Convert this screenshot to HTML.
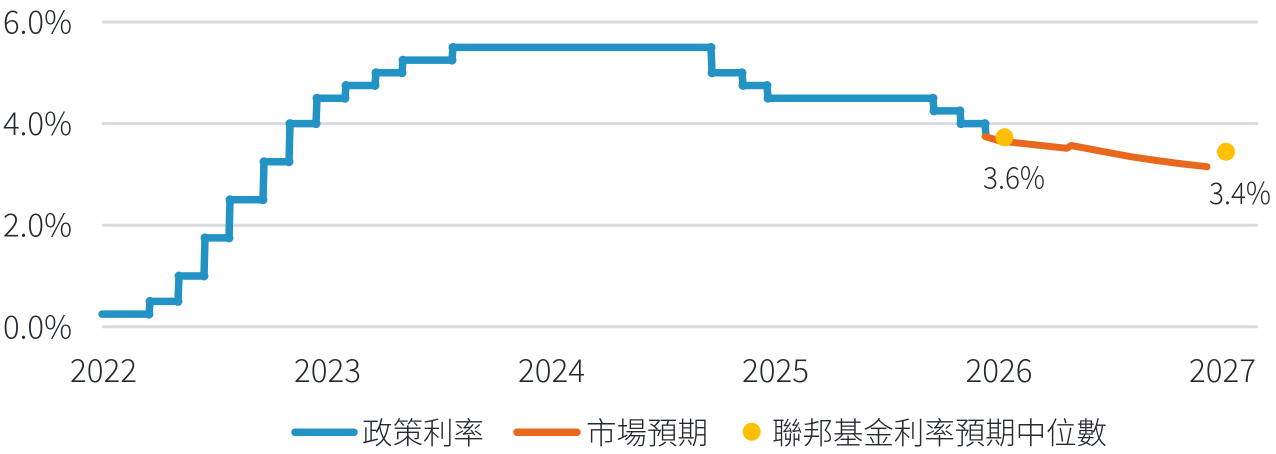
<!DOCTYPE html>
<html>
<head>
<meta charset="utf-8">
<style>
  html,body{margin:0;padding:0;background:#fff;}
  body{width:1276px;height:454px;overflow:hidden;}
  svg{display:block;}
  text{font-family:"Noto Sans CJK TC","Liberation Sans",sans-serif;fill:#252a31;font-weight:300;}
</style>
</head>
<body>
<svg width="1276" height="454" viewBox="0 0 1276 454" xmlns="http://www.w3.org/2000/svg">
  <!-- gridlines -->
  <g stroke="#d9dbe2" stroke-width="3">
    <line x1="102" y1="22" x2="1258" y2="22"/>
    <line x1="102" y1="123.6" x2="1258" y2="123.6"/>
    <line x1="102" y1="225.2" x2="1258" y2="225.2"/>
    <line x1="102" y1="326.8" x2="1258" y2="326.8"/>
  </g>

  <!-- y labels -->
  <g font-size="31.5">
    <text x="3" y="33.5" textLength="69" lengthAdjust="spacingAndGlyphs">6.0%</text>
    <text x="3" y="135.1" textLength="69" lengthAdjust="spacingAndGlyphs">4.0%</text>
    <text x="3" y="236.7" textLength="69" lengthAdjust="spacingAndGlyphs">2.0%</text>
    <text x="3" y="338.3" textLength="69" lengthAdjust="spacingAndGlyphs">0.0%</text>
  </g>

  <!-- x labels -->
  <g font-size="31.5">
    <text x="70" y="382" textLength="67" lengthAdjust="spacingAndGlyphs">2022</text>
    <text x="294" y="382" textLength="67" lengthAdjust="spacingAndGlyphs">2023</text>
    <text x="518" y="382" textLength="67" lengthAdjust="spacingAndGlyphs">2024</text>
    <text x="742" y="382" textLength="67" lengthAdjust="spacingAndGlyphs">2025</text>
    <text x="965.5" y="382" textLength="67" lengthAdjust="spacingAndGlyphs">2026</text>
    <text x="1189" y="382" textLength="67" lengthAdjust="spacingAndGlyphs">2027</text>
  </g>

  <!-- policy rate -->
  <path d="M102,314.1 H149 L150,301.4 H178 L179,276 H204 L205,237.9 H229 L230,199.8 H263 L264,161.7 H289 L290,123.6 H316 L317,98.2 H345 L346,85.5 H375 L376,72.8 H402 L403,60.1 H452 L453,47.4 H711 L712,72.8 H742 L743,85.5 H767 L768,98.2 H933 L934,110.9 H960 L961,123.6 H985 L986,136.3"
        fill="none" stroke="#2392c4" stroke-width="7.5" stroke-linejoin="round" stroke-linecap="round"/>
  <g fill="#2392c4">
    <circle cx="149" cy="314.1" r="4.5"/><circle cx="150" cy="301.4" r="4.5"/>
    <circle cx="178" cy="301.4" r="4.5"/><circle cx="179" cy="276" r="4.5"/>
    <circle cx="204" cy="276" r="4.5"/><circle cx="205" cy="237.9" r="4.5"/>
    <circle cx="229" cy="237.9" r="4.5"/><circle cx="230" cy="199.8" r="4.5"/>
    <circle cx="263" cy="199.8" r="4.5"/><circle cx="264" cy="161.7" r="4.5"/>
    <circle cx="289" cy="161.7" r="4.5"/><circle cx="290" cy="123.6" r="4.5"/>
    <circle cx="316" cy="123.6" r="4.5"/><circle cx="317" cy="98.2" r="4.5"/>
    <circle cx="345" cy="98.2" r="4.5"/><circle cx="346" cy="85.5" r="4.5"/>
    <circle cx="375" cy="85.5" r="4.5"/><circle cx="376" cy="72.8" r="4.5"/>
    <circle cx="402" cy="72.8" r="4.5"/><circle cx="403" cy="60.1" r="4.5"/>
    <circle cx="452" cy="60.1" r="4.5"/><circle cx="453" cy="47.4" r="4.5"/>
    <circle cx="711" cy="47.4" r="4.5"/><circle cx="712" cy="72.8" r="4.5"/>
    <circle cx="742" cy="72.8" r="4.5"/><circle cx="743" cy="85.5" r="4.5"/>
    <circle cx="767" cy="85.5" r="4.5"/><circle cx="768" cy="98.2" r="4.5"/>
    <circle cx="933" cy="98.2" r="4.5"/><circle cx="934" cy="110.9" r="4.5"/>
    <circle cx="960" cy="110.9" r="4.5"/><circle cx="961" cy="123.6" r="4.5"/>
    <circle cx="985" cy="123.6" r="4.5"/>
  </g>

  <!-- market expectations -->
  <path d="M985,136.5 L1000,141 L1067,148.3 L1071,145.5 L1100,150.9 L1130,156.6 L1153,160 L1180,163.6 L1207,166.7"
        fill="none" stroke="#e8691d" stroke-width="7" stroke-linejoin="round" stroke-linecap="round"/>

  <!-- FOMC median dots -->
  <circle cx="1004.5" cy="137.3" r="9" fill="#fec000"/>
  <circle cx="1226" cy="151.7" r="9" fill="#fec000"/>

  <!-- data labels -->
  <g font-size="30">
    <text x="983" y="188.5" textLength="62" lengthAdjust="spacingAndGlyphs">3.6%</text>
    <text x="1209" y="204" textLength="62" lengthAdjust="spacingAndGlyphs">3.4%</text>
  </g>

  <!-- legend -->
  <line x1="295" y1="432.3" x2="354" y2="432.3" stroke="#2392c4" stroke-width="7.5" stroke-linecap="round"/>
  <text x="362" y="444" font-size="30.5">政策利率</text>
  <line x1="517" y1="432.3" x2="577" y2="432.3" stroke="#e8691d" stroke-width="7.5" stroke-linecap="round"/>
  <text x="586" y="444" font-size="30.5">市場預期</text>
  <circle cx="751.7" cy="431.7" r="9" fill="#fec000"/>
  <text x="772" y="444" font-size="30.5" textLength="335" lengthAdjust="spacing">聯邦基金利率預期中位數</text>
</svg>
</body>
</html>
